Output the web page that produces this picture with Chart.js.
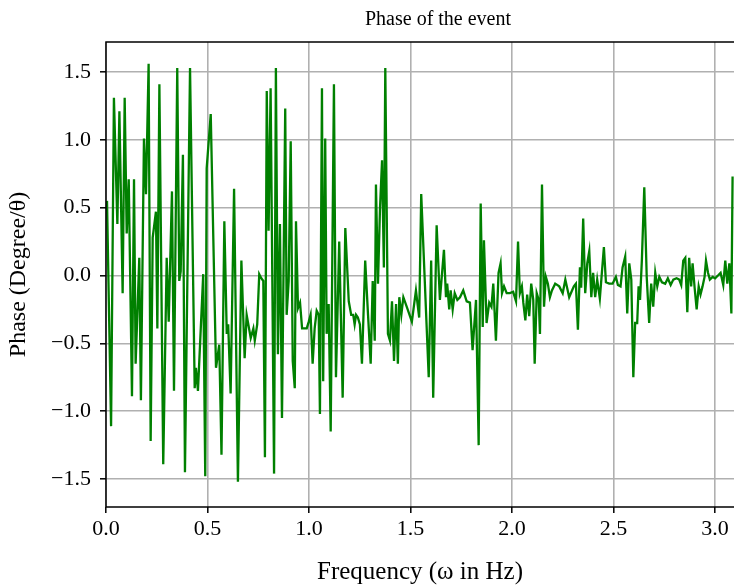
<!DOCTYPE html>
<html>
<head>
<meta charset="utf-8">
<title>Phase of the event</title>
<script src="https://cdn.jsdelivr.net/npm/chart.js@4.4.0/dist/chart.umd.min.js"></script>
<style>
  html, body { margin: 0; padding: 0; background: #fff; }
  canvas { display: block; }
</style>
</head>
<body>
<canvas id="phaseChart" width="734" height="587"></canvas>
<script>
// frequency (Hz) and phase values
const freq = [
  0.005, 0.025, 0.039, 0.056, 0.066, 0.082, 0.092, 0.102, 0.112, 0.128,
  0.138, 0.146, 0.164, 0.172, 0.187, 0.197, 0.210, 0.220, 0.230, 0.246,
  0.253, 0.263, 0.282, 0.299, 0.309, 0.325, 0.335, 0.351, 0.361, 0.368,
  0.379, 0.389, 0.414, 0.437, 0.443, 0.453, 0.479, 0.489, 0.496, 0.516,
  0.542, 0.558, 0.569, 0.583, 0.595, 0.602, 0.614, 0.631, 0.650, 0.667,
  0.683, 0.693, 0.713, 0.726, 0.733, 0.745, 0.755, 0.765, 0.775, 0.783,
  0.792, 0.801, 0.811, 0.828, 0.837, 0.847, 0.857, 0.867, 0.883, 0.890,
  0.900, 0.910, 0.920, 0.930, 0.936, 0.946, 0.956, 0.966, 0.979, 0.989,
  0.999, 1.008, 1.018, 1.028, 1.038, 1.048, 1.054, 1.064, 1.070, 1.080,
  1.087, 1.097, 1.107, 1.123, 1.133, 1.149, 1.166, 1.179, 1.196, 1.208,
  1.218, 1.225, 1.232, 1.241, 1.251, 1.261, 1.277, 1.291, 1.304, 1.314,
  1.324, 1.330, 1.340, 1.350, 1.360, 1.369, 1.376, 1.389, 1.399, 1.409,
  1.419, 1.429, 1.438, 1.445, 1.455, 1.465, 1.484, 1.507, 1.527, 1.543,
  1.553, 1.590, 1.602, 1.612, 1.629, 1.645, 1.665, 1.675, 1.681, 1.691,
  1.698, 1.708, 1.718, 1.731, 1.744, 1.760, 1.777, 1.793, 1.806, 1.823,
  1.836, 1.846, 1.856, 1.862, 1.875, 1.888, 1.899, 1.908, 1.921, 1.934,
  1.944, 1.951, 1.961, 1.974, 1.990, 2.006, 2.020, 2.030, 2.039, 2.049,
  2.056, 2.066, 2.075, 2.085, 2.095, 2.105, 2.112, 2.122, 2.132, 2.138,
  2.148, 2.158, 2.167, 2.177, 2.187, 2.197, 2.213, 2.233, 2.250, 2.263,
  2.282, 2.296, 2.305, 2.315, 2.325, 2.335, 2.341, 2.351, 2.361, 2.371,
  2.381, 2.391, 2.400, 2.410, 2.420, 2.433, 2.443, 2.453, 2.463, 2.479,
  2.496, 2.512, 2.522, 2.535, 2.545, 2.558, 2.568, 2.578, 2.588, 2.598,
  2.607, 2.617, 2.624, 2.631, 2.640, 2.652, 2.664, 2.676, 2.686, 2.696,
  2.706, 2.716, 2.726, 2.739, 2.755, 2.768, 2.782, 2.795, 2.811, 2.824,
  2.834, 2.844, 2.854, 2.864, 2.873, 2.883, 2.890, 2.900, 2.910, 2.920,
  2.929, 2.939, 2.949, 2.956, 2.966, 2.975, 2.989, 3.001, 3.015, 3.028,
  3.041, 3.051, 3.061, 3.071, 3.081, 3.087
];

const phase = [
  0.55, -1.11, 1.31, 0.38, 1.21, -0.13, 1.31, 0.31, 0.71, -0.89,
  0.71, -0.65, 0.13, -0.92, 1.01, 0.6, 1.56, -1.22, 0.28, 0.47,
  -0.39, 1.41, -1.39, 0.13, -0.34, 0.62, -0.85, 1.53, -0.04, 0.03,
  0.89, -1.45, 1.53, -0.83, -0.68, -0.85, 0.01, -1.48, 0.79, 1.19,
  -0.68, -0.51, -1.32, 0.4, -0.43, -0.36, -0.87, 0.64, -1.52, 0.11,
  -0.61, -0.29, -0.46, -0.39, -0.48, -0.36, 0.01, -0.02, -0.04, -1.34,
  1.36, 0.33, 1.38, -1.46, 1.53, -0.58, 0.38, -1.05, 1.23, -0.29,
  -0.04, 0.99, -0.63, -0.83, 0.4, -0.24, -0.2, -0.39, -0.39, -0.39,
  -0.34, -0.29, -0.65, -0.39, -0.26, -0.29, -1.02, 1.38, -0.78, 1.01,
  -0.43, -0.21, -1.15, 1.41, -0.75, 0.25, -0.9, 0.35, -0.19, -0.29,
  -0.29, -0.36, -0.29, -0.31, -0.36, -0.65, 0.11, -0.29, -0.65, -0.04,
  -0.48, 0.67, -0.06, 0.5, 0.85, 0.06, 1.53, -0.43, -0.48, -0.19,
  -0.63, -0.21, -0.65, -0.16, -0.29, -0.16, -0.24, -0.34, -0.11, -0.31,
  0.6, -0.75, 0.11, -0.9, 0.37, -0.18, 0.19, -0.16, -0.06, -0.25,
  -0.11, -0.25, -0.13, -0.18, -0.16, -0.11, -0.19, -0.2, -0.55, -0.18,
  -1.25, 0.53, -0.38, 0.26, -0.35, -0.2, -0.23, -0.06, -0.48, 0.02,
  0.09, -0.13, -0.08, -0.13, -0.13, -0.12, -0.19, 0.25, -0.13, -0.08,
  -0.2, -0.33, -0.14, -0.3, -0.06, -0.18, -0.65, -0.13, -0.18, -0.43,
  0.67, -0.23, -0.01, -0.06, -0.16, -0.11, -0.06, -0.08, -0.13, -0.03,
  -0.16, -0.11, -0.08, -0.06, -0.4, 0.06, -0.09, 0.42, -0.13, 0.09,
  0.18, -0.16, 0.02, -0.16, -0.03, -0.17, 0.02, 0.21, -0.05, -0.06,
  -0.06, -0.01, -0.07, -0.08, 0.06, 0.14, -0.28, 0.09, -0.03, -0.75,
  -0.35, -0.35, -0.08, -0.18, 0.11, 0.65, -0.01, -0.35, -0.06, -0.23,
  0.02, -0.08, -0.01, -0.05, -0.06, -0.02, -0.07, -0.03, -0.02, -0.03,
  -0.07, 0.11, 0.13, -0.27, 0.13, -0.08, 0.09, -0.09, -0.25, -0.08,
  -0.14, -0.08, -0.01, 0.11, 0.02, -0.03, -0.01, -0.02, 0.0, 0.02,
  -0.07, 0.11, -0.06, 0.09, -0.28, 0.73
];

const xTicks = [0, 0.5, 1.0, 1.5, 2.0, 2.5, 3.0];
const yTicks = [-1.5, -1.0, -0.5, 0, 0.5, 1.0, 1.5];

const serif = "'Liberation Serif', 'Times New Roman', serif";

// one decimal, with a real minus sign like matplotlib
function fmt(v) {
    return (v < 0 ? '\u2212' : '') + Math.abs(v).toFixed(1);
}

// white background, title over the (cropped) axes, spines on left/top/bottom
const frame = {
    id: 'frame',
    afterLayout(chart) {
        const a = chart.chartArea;
        if (chart.titleBlock) {
            chart.titleBlock.left = a.left;
            chart.titleBlock.right = a.right + 36;
        }
    },
    beforeDraw(chart) {
        const ctx = chart.ctx;
        ctx.save();
        ctx.fillStyle = '#fff';
        ctx.fillRect(0, 0, chart.width, chart.height);
        ctx.restore();
    },
    afterDraw(chart) {
        const a = chart.chartArea;
        const ctx = chart.ctx;
        ctx.save();
        ctx.strokeStyle = '#000';
        ctx.lineWidth = 1.5;
        ctx.beginPath();
        ctx.moveTo(a.right + 2, a.top);
        ctx.lineTo(a.left, a.top);
        ctx.lineTo(a.left, a.bottom);
        ctx.lineTo(a.right + 2, a.bottom);
        ctx.stroke();
        ctx.restore();
    }
};

new Chart(document.getElementById('phaseChart'), {
    type: 'line',
    data: {
        datasets: [{
            data: freq.map((f, i) => ({ x: f, y: phase[i] })),
            borderColor: '#008000',
            borderWidth: 2.3,
            pointRadius: 0,
            tension: 0,
            fill: false
        }]
    },
    options: {
        responsive: false,
        animation: false,
        devicePixelRatio: 1,
        layout: { padding: 0 },
        plugins: {
            legend: { display: false },
            tooltip: { enabled: false },
            title: {
                display: true,
                text: 'Phase of the event',
                color: '#000',
                font: { family: serif, size: 20, weight: 'normal' },
                padding: { top: 8, bottom: 10 }
            }
        },
        scales: {
            x: {
                type: 'linear',
                min: 0,
                max: 3.094,
                afterBuildTicks: s => { s.ticks = xTicks.map(v => ({ value: v })); },
                afterFit: s => { s.height = 80; },
                grid: { color: '#b0b0b0', lineWidth: 1.6, tickColor: '#000', tickLength: 6, tickWidth: 1.5 },
                border: { display: false },
                ticks: { color: '#000', font: { family: serif, size: 22 }, padding: 3, maxRotation: 0, callback: fmt },
                title: {
                    display: true,
                    text: 'Frequency (ω in Hz)',
                    color: '#000',
                    font: { family: serif, size: 25 },
                    padding: { top: 0, bottom: 0 }
                }
            },
            y: {
                min: -1.706,
                max: 1.721,
                afterBuildTicks: s => { s.ticks = yTicks.map(v => ({ value: v })); },
                afterFit: s => { s.width = 106; },
                grid: { color: '#b0b0b0', lineWidth: 1.6, tickColor: '#000', tickLength: 6, tickWidth: 1.5 },
                border: { display: false },
                ticks: { color: '#000', font: { family: serif, size: 22 }, padding: 9, callback: fmt },
                title: {
                    display: true,
                    text: 'Phase (Degree/θ)',
                    color: '#000',
                    font: { family: serif, size: 24 },
                    padding: { top: 4, bottom: 0 }
                }
            }
        }
    },
    plugins: [frame]
});
</script>
</body>
</html>
